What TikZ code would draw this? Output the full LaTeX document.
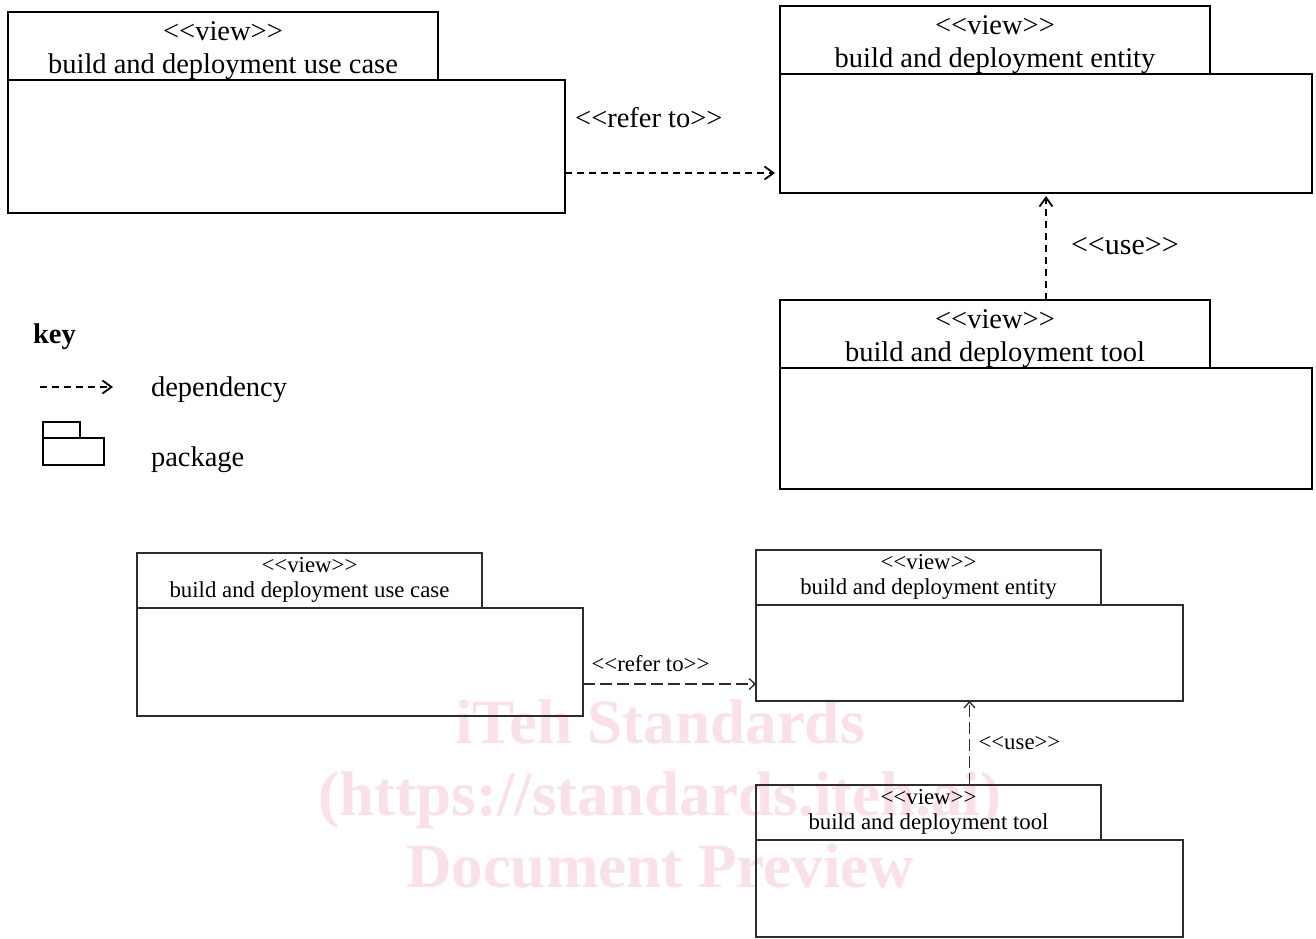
\documentclass[tikz,border=0pt]{standalone}
\usepackage{fontspec}
\setmainfont{Liberation Serif}[Ligatures=TeXOff]
\usepackage{xcolor}
\usetikzlibrary{positioning,arrows.meta}
\definecolor{wmpink}{RGB}{249,224,233}
\definecolor{boxgray}{RGB}{45,45,45}

\begin{document}
\begin{tikzpicture}[x=1pt,y=-1pt]
\tikzstyle{every node}+=[inner sep=0pt,outer sep=0pt]
\tikzstyle{bigfont}=[font=\fontsize{28.5}{33}\selectfont]
\tikzstyle{smallfont}=[font=\fontsize{22.8}{25}\selectfont]
\tikzstyle{bigtab}=[draw,line width=1.8pt,bigfont,align=center,minimum width=430pt,text height=61pt,text depth=7pt,anchor=north west]
\tikzstyle{bigbody}=[draw,line width=1.8pt]
\tikzstyle{smalltab}=[draw=boxgray,line width=2.6pt,smallfont,align=center,minimum width=345pt,text height=44pt,text depth=11pt,anchor=north west]
\tikzstyle{smallbody}=[draw=boxgray,line width=2.6pt]
\tikzstyle{dep}=[dash pattern=on 7pt off 5pt,line width=1.8pt,-{Straight Barb[length=9pt,width=13pt]}]
\tikzstyle{depsmall}=[draw=boxgray,dash pattern=on 12pt off 5pt,line width=1.3pt,-{Straight Barb[length=6pt,width=11pt]}]
\useasboundingbox (0,0) rectangle (1316,938);
\node[font=\fontsize{63}{72}\selectfont\bfseries,text=wmpink,align=center,anchor=base] (wm) at (660,887) {iTeh Standards\\(https://standards.iteh.ai)\\Document Preview};
\node[bigtab] (ucTab) at (8,12) {<<view>>\\build and deployment use case};
\node[bigbody,minimum width=557pt,minimum height=133pt,below right=0pt of ucTab.south west] (ucBody) {};
\node[bigtab] (entTab) at (780,6) {<<view>>\\build and deployment entity};
\node[bigbody,minimum width=532pt,minimum height=119pt,below right=0pt of entTab.south west] (entBody) {};
\node[bigtab] (toolTab) at (780,300) {<<view>>\\build and deployment tool};
\node[bigbody,minimum width=532pt,minimum height=121pt,below right=0pt of toolTab.south west] (toolBody) {};
\draw[dep,shorten >=5pt] ([yshift=-26.5pt]ucBody.east) -- ([yshift=-26.5pt]ucBody.east -| entBody.west) node[pos=0.39,yshift=55pt,bigfont] (referLbl) {<<refer to>>};
\draw[dep,shorten >=3pt] (entBody.south |- toolTab.north) -- (entBody.south) node[midway,right=25pt,font=\fontsize{30}{33}\selectfont] (useLbl) {<<use>>};
\node[anchor=base west,font=\fontsize{28.5}{33}\selectfont\bfseries] (keyLbl) at (33,343) {key};
\coordinate (depA) at (40,387);
\coordinate (depB) at (113,387);
\draw[dep] (depA) -- (depB);
\node[anchor=base west,bigfont] (depLbl) at (151,396) {dependency};
\node[draw,line width=1.8pt,minimum width=37pt,minimum height=16pt,anchor=north west] (keyTab) at (43,422) {};
\node[draw,line width=1.8pt,minimum width=61pt,minimum height=27pt,below right=0pt of keyTab.south west] (keyBody) {};
\node[anchor=base west,bigfont] (pkgLbl) at (151,466) {package};
\node[smalltab] (ucTabB) at (137,553) {<<view>>\\build and deployment use case};
\node[smallbody,minimum width=446pt,minimum height=108pt,below right=0pt of ucTabB.south west] (ucBodyB) {};
\node[smalltab] (entTabB) at (756,550) {<<view>>\\build and deployment entity};
\node[smallbody,minimum width=427pt,minimum height=96pt,below right=0pt of entTabB.south west] (entBodyB) {};
\node[smalltab] (toolTabB) at (756,785) {<<view>>\\build and deployment tool};
\node[smallbody,minimum width=427pt,minimum height=97pt,below right=0pt of toolTabB.south west] (toolBodyB) {};
\draw[depsmall] ([yshift=-22pt]ucBodyB.east) -- ([yshift=-22pt]ucBodyB.east -| entBodyB.west) node[pos=0.39,yshift=20pt,smallfont] (referLblB) {<<refer to>>};
\draw[depsmall] (entBodyB.south |- toolTabB.north) -- (entBodyB.south) node[midway,right=9pt,smallfont] (useLblB) {<<use>>};
\end{tikzpicture}
\end{document}
